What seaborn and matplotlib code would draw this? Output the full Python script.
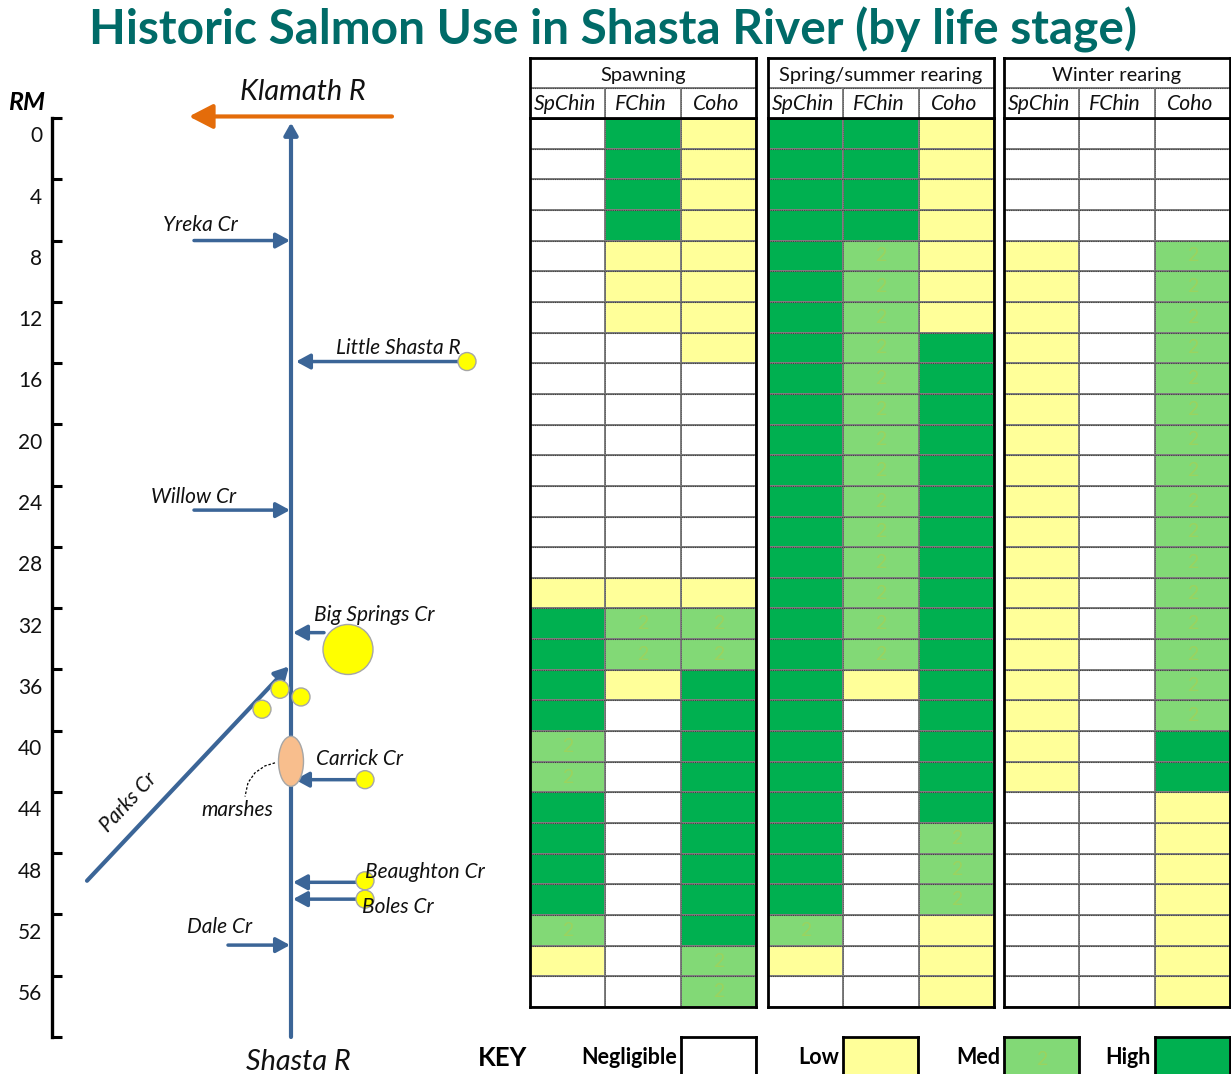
import numpy as np
import pandas as pd
import matplotlib
matplotlib.use('Agg')
import matplotlib.pyplot as plt
from matplotlib.colors import ListedColormap
from matplotlib.patches import Ellipse
import seaborn as sns

# 0 negligible, 1 low, 2 med, 3 high; one value per 2 river miles
spawn_sp = [0,0,0,0,0,0,0,0,0,0,0,0,0,0,0,1,3,3,3,3,2,2,3,3,3,3,2,1,0]
spawn_f = [3,3,3,3,1,1,1,0,0,0,0,0,0,0,0,1,2,2,1,0,0,0,0,0,0,0,0,0,0]
spawn_coho = [1,1,1,1,1,1,1,1,0,0,0,0,0,0,0,1,2,2,3,3,3,3,3,3,3,3,3,2,2]
rear_sp = [3,3,3,3,3,3,3,3,3,3,3,3,3,3,3,3,3,3,3,3,3,3,3,3,3,3,2,1,0]
rear_f = [3,3,3,3,2,2,2,2,2,2,2,2,2,2,2,2,2,2,1,0,0,0,0,0,0,0,0,0,0]
rear_coho = [1,1,1,1,1,1,1,3,3,3,3,3,3,3,3,3,3,3,3,3,3,3,3,2,2,2,1,1,1]
winter_sp = [0,0,0,0,1,1,1,1,1,1,1,1,1,1,1,1,1,1,1,1,1,1,0,0,0,0,0,0,0]
winter_f = [0,0,0,0,0,0,0,0,0,0,0,0,0,0,0,0,0,0,0,0,0,0,0,0,0,0,0,0,0]
winter_coho = [0,0,0,0,2,2,2,2,2,2,2,2,2,2,2,2,2,2,2,2,3,3,1,1,1,1,1,1,1]

species = ['SpChin', 'FChin', 'Coho']
stages = ['Spawning', 'Spring/summer rearing', 'Winter rearing']
key_names = ['Negligible', 'Low', 'Med', 'High']
key_values = [0, 1, 2, 3]

rm_ticks = [0,4,8,12,16,20,24,28,32,36,40,44,48,52,56,60]
rm_labels = [0,4,8,12,16,20,24,28,32,36,40,44,48,52,56]

# tributary, x start, x end, river mile
tribs = ['Yreka Cr', 'Little Shasta R', 'Willow Cr', 'Big Springs Cr', 'Carrick Cr', 'Beaughton Cr', 'Boles Cr', 'Dale Cr']
trib_x0 = [194, 460, 194, 324, 358, 358, 358, 228]
trib_x1 = [290, 296, 290, 293, 295, 293, 293, 290]
trib_rm = [8.0, 15.9, 25.6, 33.6, 43.2, 49.9, 51.0, 54.0]
label_x = [200, 398, 194, 374, 360, 425, 398, 220]
label_rm = [7.0, 15.0, 24.75, 32.45, 41.85, 49.2, 51.5, 52.8]

spring_x = [467, 348, 280, 301, 262, 365, 365, 365]
spring_rm = [15.9, 34.7, 37.3, 37.8, 38.6, 43.2, 49.8, 51.0]
spring_d = [18, 50, 18, 18, 18, 18, 18, 18]

W, H = 1231, 1074
BLUE = '#3B6597'
palette = ['#FFFFFF', '#FFFF99', '#82D976', '#00B050']
cmap = ListedColormap(palette)

sns.set_theme(style='white')
plt.rcParams['font.family'] = ['Lato', 'DejaVu Sans']
fig = plt.figure(figsize=(W / 100, H / 100), dpi=100)


def px_axes(x0, y0, x1, y1):
    return fig.add_axes([x0 / W, 1 - y1 / H, (x1 - x0) / W, (y1 - y0) / H])


def cell_map(ax, values, annot_size=14):
    labels = np.where(values == 2, '2', '')
    sns.heatmap(values, ax=ax, cmap=cmap, vmin=-0.5, vmax=3.5, cbar=False,
                annot=labels, fmt='', annot_kws={'size': annot_size, 'color': '#9AD35F'},
                linewidths=1.4, linecolor='#7F7F7F', xticklabels=False, yticklabels=False)
    for s in ax.spines.values():
        s.set_visible(True)
        s.set_color('black')
        s.set_linewidth(2)


panels = [(530, 756, [spawn_sp, spawn_f, spawn_coho]),
          (768, 994, [rear_sp, rear_f, rear_coho]),
          (1004, 1230, [winter_sp, winter_f, winter_coho])]

for (x0, x1, cols), stage in zip(panels, stages):
    ax = px_axes(x0, 118, x1, 1007)
    df = pd.DataFrame(dict(zip(species, cols)))
    cell_map(ax, df.to_numpy())
    # dotted texture on the cell borders
    ax.hlines(np.arange(1, len(df)), 0, 3, color='#404040', lw=0.8, ls=(0, (1, 1)))
    ax.vlines([1, 2], 0, len(df), color='#606060', lw=0.7, ls=(0, (1, 1)))

    head = px_axes(x0, 58, x1, 118)
    head.set_xlim(0, 3)
    head.set_ylim(2, 0)
    head.set_xticks([])
    head.set_yticks([])
    for s in head.spines.values():
        s.set_color('black')
        s.set_linewidth(2)
    head.hlines(1, 0, 3, color='#7F7F7F', lw=1.4)
    head.hlines(1, 0, 3, color='#404040', lw=0.8, ls=(0, (1, 1)))
    head.vlines([1, 2], 1, 2, color='#7F7F7F', lw=1.4)
    head.vlines([1, 2], 1, 2, color='#606060', lw=0.7, ls=(0, (1, 1)))
    head.text(1.5, 0.57, stage, ha='center', va='center', fontsize=14.5, color='#111111')
    for i, sp in enumerate(species):
        head.text(i + 0.47, 1.55, sp, ha='center', va='center', fontsize=15.2, style='italic', color='#111111')

# river schematic: x in pixels, y in river miles
sc = px_axes(0, 0, 525, H)
sc.patch.set_alpha(0)
per_mile = (1037 - 118) / 60
sc.set_xlim(0, 525)
sc.set_ylim((H - 118) / per_mile, -118 / per_mile)
for name in ['top', 'right', 'bottom']:
    sc.spines[name].set_visible(False)
sc.spines['left'].set_position(('data', 52))
sc.spines['left'].set_bounds(0, 60)
sc.spines['left'].set_linewidth(2.4)
sc.spines['left'].set_color('black')
sc.set_xticks([])
sc.set_yticks(rm_ticks)
sc.set_yticklabels([])
sc.tick_params(axis='y', which='major', direction='in', length=7.5, width=2.2, color='black', left=True)
sc.set_yticks([v + 1.07 for v in rm_labels], labels=[str(v) for v in rm_labels], minor=True)
sc.tick_params(axis='y', which='minor', length=0, pad=7, labelsize=15, labelcolor='#111111')
sc.text(27, -1, 'RM', ha='center', va='center', fontsize=18, fontweight='bold', style='italic', color='black')


def arrow(x0, rm0, x1, rm1, color=BLUE, lw=2.5, hw=0.38, hl=0.7):
    sc.annotate('', xy=(x1, rm1), xytext=(x0, rm0),
                arrowprops=dict(arrowstyle=f'-|>,head_width={hw},head_length={hl}', color=color, lw=lw,
                                shrinkA=0, shrinkB=0))


arrow(291, 60, 291, 0.3, lw=3, hw=0.34, hl=0.6)
arrow(392, -0.1, 189, -0.1, color='#E46C0A', lw=3, hw=0.62, hl=1.2)
arrow(87, 49.8, 289, 35.8, lw=3)
for x0, x1, rm in zip(trib_x0, trib_x1, trib_rm):
    arrow(x0, rm, x1, rm)

sc.add_patch(Ellipse((291, 42.0), 25, 50 / per_mile, fc='#F8BE8D', ec='#A6A6A6', lw=1, zorder=3))
sc.plot([275, 265, 255, 248, 245], [42.1, 42.3, 42.75, 43.4, 44.3], color='black', lw=0.9, ls=(0, (2, 1.5)))

springs = pd.DataFrame({'x': spring_x, 'rm': spring_rm, 'd': spring_d})
sns.scatterplot(data=springs, x='x', y='rm', size='d', sizes={18: (18 * 0.72) ** 2, 50: (50 * 0.72) ** 2},
                color='#FFFF00', edgecolor='#A6A6A6', linewidth=1, legend=False, ax=sc, zorder=4)
sc.set_xlabel('')
sc.set_ylabel('')
sc.set_xlim(0, 525)

for name, x, rm in zip(tribs, label_x, label_rm):
    sc.text(x, rm, name, ha='center', va='center', fontsize=15, style='italic', color='#111111', zorder=5)
sc.text(237, 45.2, 'marshes', ha='center', va='center', fontsize=15, style='italic', color='#111111')
sc.text(128, 44.7, 'Parks Cr', ha='center', va='center', fontsize=15, style='italic', color='#111111', rotation=47)
sc.text(303, -1.68, 'Klamath R', ha='center', va='center', fontsize=20.8, style='italic', color='#111111')
sc.text(298, 61.6, 'Shasta R', ha='center', va='center', fontsize=20.8, style='italic', color='#111111')

# key
key_boxes = [(681, 756), (843, 918), (1004, 1079), (1155, 1230)]
for (x0, x1), name, v in zip(key_boxes, key_names, key_values):
    k = px_axes(x0, 1037, x1, 1082)
    cell_map(k, np.array([[v]]))
    fig.text((x0 - 4) / W, 1 - 1058 / H, name, ha='right', va='center', fontsize=15.5, fontweight='bold', color='black')
fig.text(503 / W, 1 - 1058 / H, 'KEY', ha='center', va='center', fontsize=18.5, fontweight='bold', color='black')

fig.text(613 / W, 1 - 30 / H, 'Historic Salmon Use in Shasta River (by life stage)', ha='center', va='center',
         fontsize=34.4, fontweight='bold', color='#006B68')

fig.savefig('out.png', dpi=100)
